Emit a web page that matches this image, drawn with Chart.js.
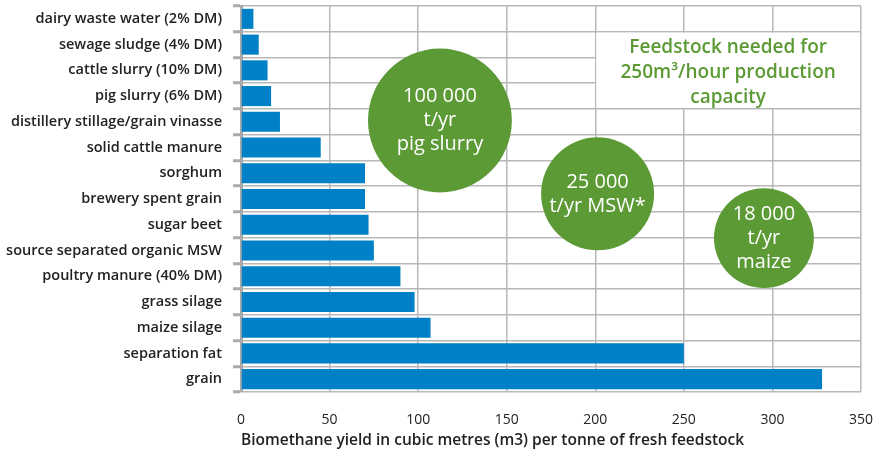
<!DOCTYPE html>
<html lang="en">
<head>
    <meta charset="UTF-8">
    <title>Biomethane yield per tonne of fresh feedstock</title>
    <script src="https://cdn.jsdelivr.net/npm/chart.js"></script>
    <style>
        html, body { margin: 0; padding: 0; background: #fff; }
        #wrap { width: 886px; height: 453px; }
    </style>
</head>
<body>
    <div id="wrap"><canvas id="myChart"></canvas></div>

    <script>
        // feedstocks, top to bottom
        const feedstocks = [
            "dairy waste water (2% DM)",
            "sewage sludge (4% DM)",
            "cattle slurry (10% DM)",
            "pig slurry (6% DM)",
            "distillery stillage/grain vinasse",
            "solid cattle manure",
            "sorghum",
            "brewery spent grain",
            "sugar beet",
            "source separated organic MSW",
            "poultry manure (40% DM)",
            "grass silage",
            "maize silage",
            "separation fat",
            "grain"
        ];
        // m3 biomethane per tonne of fresh feedstock
        const yields = [7, 10, 15, 17, 22, 45, 70, 70, 72, 75, 90, 98, 107, 250, 328];
        const xTicks = [0, 50, 100, 150, 200, 250, 300, 350];

        // callout bubbles: text lines
        const bubbleTexts = [
            ["100 000", "t/yr", "pig slurry"],
            ["25 000", "t/yr MSW*"],
            ["18 000", "t/yr", "maize"]
        ];
        const boxText = ["Feedstock needed for", "250m\u00B3/hour production", "capacity"];

        const FONT = "'Open Sans', sans-serif";
        const GREEN = "#5b9a35";

        // where the bubbles sit, in axis units (x value, row index, radius in x units)
        const bubblePlaces = [
            { x: 112.3, row: 3.95, r: 40.6 },
            { x: 201.3, row: 6.8, r: 31.9 },
            { x: 295.2, row: 8.52, r: 28.2 }
        ];

        const calloutPlugin = {
            id: 'callouts',
            afterDatasetsDraw(chart) {
                const ctx = chart.ctx;
                const xs = chart.scales.x, ys = chart.scales.y;
                ctx.save();

                // white box with heading, rows 1..3, from 200 to 350
                const bx0 = xs.getPixelForValue(200) + 1;
                const bx1 = xs.getPixelForValue(350) - 1;
                const by0 = ys.getPixelForValue(0.5) + 1;
                const by1 = ys.getPixelForValue(3.5) - 1;
                ctx.fillStyle = '#fff';
                ctx.fillRect(bx0, by0, bx1 - bx0, by1 - by0);
                ctx.fillStyle = GREEN;
                ctx.font = "600 19px " + FONT;
                ctx.textAlign = 'center';
                ctx.textBaseline = 'middle';
                const bcx = (bx0 + bx1) / 2;
                boxText.forEach((t, i) => {
                    ctx.fillText(t, bcx, (by0 + by1) / 2 + 2 + (i - 1) * 25);
                });

                // bubbles
                bubblePlaces.forEach((b, k) => {
                    const cx = xs.getPixelForValue(b.x);
                    const cy = ys.getPixelForValue(b.row);
                    const r = xs.getPixelForValue(b.x + b.r) - cx;
                    ctx.beginPath();
                    ctx.arc(cx, cy, r, 0, Math.PI * 2);
                    ctx.fillStyle = GREEN;
                    ctx.fill();
                    ctx.fillStyle = '#fff';
                    ctx.font = "500 20px " + FONT;
                    const lines = bubbleTexts[k];
                    lines.forEach((t, i) => {
                        ctx.fillText(t, cx, cy + (i - (lines.length - 1) / 2) * 24);
                    });
                });
                ctx.restore();
            }
        };

        const ctx = document.getElementById('myChart').getContext('2d');
        new Chart(ctx, {
            type: 'bar',
            data: {
                labels: feedstocks,
                datasets: [{
                    data: yields,
                    backgroundColor: '#0080c6',
                    categoryPercentage: 1,
                    barPercentage: 0.78
                }]
            },
            options: {
                indexAxis: 'y',
                responsive: true,
                maintainAspectRatio: false,
                animation: false,
                layout: { padding: { top: 6, right: 25, left: 0, bottom: 0 } },
                plugins: {
                    legend: { display: false },
                    tooltip: { enabled: false }
                },
                scales: {
                    x: {
                        min: 0,
                        max: 350,
                        afterBuildTicks(scale) {
                            scale.ticks = xTicks.map(v => ({ value: v }));
                        },
                        afterFit(scale) {
                            scale.height = 61;
                            scale.paddingLeft = 0;
                            scale.paddingRight = 0;
                        },
                        grid: { color: '#b8b8b8', lineWidth: 1.5, drawTicks: false },
                        border: { display: false },
                        ticks: {
                            color: '#222',
                            font: { family: FONT, size: 14 },
                            padding: 20
                        },
                        title: {
                            display: true,
                            align: 'start',
                            text: 'Biomethane yield in cubic metres (m3) per tonne of fresh feedstock',
                            color: '#222',
                            font: { family: FONT, size: 15.5, weight: '600' },
                            padding: { top: 4, bottom: 3 }
                        }
                    },
                    y: {
                        afterFit(scale) {
                            scale.width = 241;
                            scale.paddingTop = 0;
                            scale.paddingBottom = 0;
                        },
                        grid: {
                            offset: true,
                            color: '#b8b8b8',
                            lineWidth: 1.5,
                            tickLength: 8,
                            tickColor: '#aaa',
                            tickWidth: 3
                        },
                        border: { display: true, color: '#aaa', width: 3 },
                        ticks: {
                            color: '#222',
                            font: { family: FONT, size: 14.5, weight: '600' },
                            padding: 11,
                            autoSkip: false
                        }
                    }
                }
            },
            plugins: [calloutPlugin]
        });
    </script>
</body>
</html>
